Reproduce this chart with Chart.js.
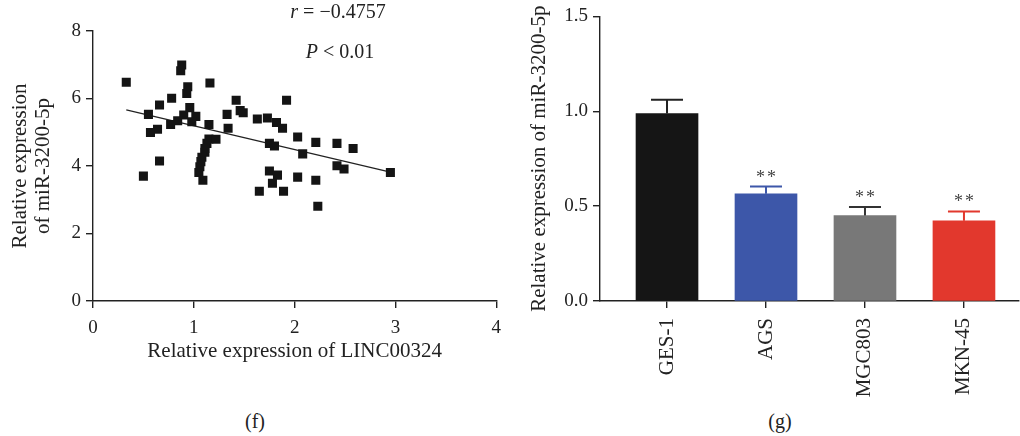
<!DOCTYPE html>
<html lang="en">
<head>
<meta charset="UTF-8">
<script src="https://cdn.jsdelivr.net/npm/chart.js"></script>
<style>
  body { margin:0; width:1020px; height:436px; overflow:hidden; background:#fff; position:relative;
         font-family:"Liberation Serif", "Times New Roman", serif; color:#222; }
  #scatterBox { position:absolute; left:0; top:0; width:510px; height:368px; }
  #barBox { position:absolute; left:500px; top:0; width:520px; height:400px; }
  .lab { position:absolute; font-size:20px; transform:translateX(-50%); white-space:nowrap; }
</style>
<title>LINC00324 / miR-3200-5p</title>
</head>
<body>

<div id="scatterBox"><canvas id="scatterChart"></canvas></div>
<div id="barBox"><canvas id="barChart"></canvas></div>

<div class="lab" style="left:338px; top:0px;"><i>r</i> = −0.4757</div>
<div class="lab" style="left:340px; top:40px;"><i>P</i> &lt; 0.01</div>
<div class="lab" style="left:255px; top:410px;">(f)</div>
<div class="lab" style="left:780px; top:410px;">(g)</div>

<script>
    // (f) correlation: LINC00324 vs miR-3200-5p
    const linc = [0.33, 0.88, 0.87, 1.16, 0.94, 0.93, 0.66, 0.78, 1.42, 1.92,
                  0.55, 0.96, 0.90, 1.02, 0.84, 0.77, 0.98, 1.15, 1.33, 1.46,
                  1.49, 1.63, 1.73, 1.82, 1.88, 1.34, 0.64, 0.57, 2.03, 1.15,
                  1.22, 1.13, 1.11, 1.11, 1.08, 1.07, 1.06, 1.05, 1.09, 1.75,
                  1.80, 2.08, 2.21, 2.42, 2.58, 2.42, 2.49, 2.95, 0.66, 0.50,
                  1.75, 1.83, 2.03, 1.78, 1.65, 1.89, 2.21, 2.23];
    const mir  = [6.48, 6.99, 6.82, 6.46, 6.35, 6.15, 5.81, 6.01, 5.95, 5.95,
                  5.53, 5.73, 5.51, 5.47, 5.34, 5.23, 5.31, 5.23, 5.53, 5.64,
                  5.58, 5.39, 5.42, 5.29, 5.12, 5.12, 5.09, 4.99, 4.86, 4.80,
                  4.79, 4.67, 4.52, 4.41, 4.26, 4.13, 3.98, 3.81, 3.58, 4.67,
                  4.59, 4.36, 4.70, 4.67, 4.52, 4.01, 3.91, 3.81, 4.15, 3.70,
                  3.85, 3.73, 3.67, 3.49, 3.25, 3.25, 3.58, 2.81];
    const fitX = [0.33, 2.95];
    const fitY = [5.66, 3.82];
    const xTicks = [0, 1, 2, 3, 4];
    const yTicks = [0, 2, 4, 6, 8];

    // (g) cell lines
    const cells = ['GES-1', 'AGS', 'MGC803', 'MKN-45'];
    const means = [0.988, 0.565, 0.450, 0.423];
    const errs  = [0.073, 0.038, 0.045, 0.049];
    const stars = ['', '**', '**', '**'];
    const barTicks = [0, 0.5, 1.0, 1.5];

    const barColors = ['#151515', '#3d57a9', '#787878', '#e2382d'];
    const capColors = ['#222222', '#3d57a9', '#333333', '#e2382d'];
    const ink = '#222';
    const family = '"Liberation Serif", "Times New Roman", serif';
    const tickFont = { family, size: 19 };
    const textFont = { family, size: 21 };

    const axisBits = {
        grid: { drawOnChartArea: false, drawTicks: true, tickLength: 7, color: ink, lineWidth: 1.4, offset: false },
        border: { display: true, color: ink, width: 1.4 }
    };

    new Chart(document.getElementById('scatterChart'), {
        type: 'scatter',
        data: {
            datasets: [{
                data: linc.map((v, i) => ({ x: v, y: mir[i] })),
                pointStyle: 'rect',
                pointRadius: 6.4,
                backgroundColor: '#141414',
                borderWidth: 0
            }, {
                type: 'line',
                data: fitX.map((v, i) => ({ x: v, y: fitY[i] })),
                borderColor: ink,
                borderWidth: 1.3,
                pointRadius: 0,
                fill: false
            }]
        },
        options: {
            animation: false,
            responsive: true,
            maintainAspectRatio: false,
            layout: { padding: { top: 31, right: 13, left: 0, bottom: 0 } },
            plugins: { legend: { display: false }, tooltip: { enabled: false } },
            scales: {
                x: {
                    type: 'linear', min: 0, max: 4,
                    afterBuildTicks: s => { s.ticks = xTicks.map(v => ({ value: v })); },
                    ticks: { font: tickFont, color: ink, padding: 9 },
                    title: { display: true, text: 'Relative expression of LINC00324', font: textFont, color: ink, padding: 4 },
                    afterFit: s => { s.height = 67; },
                    ...axisBits
                },
                y: {
                    min: 0, max: 8,
                    afterBuildTicks: s => { s.ticks = yTicks.map(v => ({ value: v })); },
                    ticks: { font: tickFont, color: ink, padding: 5 },
                    title: { display: true, text: ['Relative expression', 'of miR-3200-5p'], font: { ...textFont, lineHeight: 1.1 }, color: ink, padding: 9 },
                    afterFit: s => { s.width = 93; },
                    ...axisBits
                }
            }
        }
    });

    // error bars and significance marks on top of the bars
    const errorBars = {
        id: 'errorBars',
        afterDatasetsDraw(chart) {
            const { ctx, scales: { x, y } } = chart;
            ctx.save();
            means.forEach((m, i) => {
                const px = x.getPixelForValue(i);
                const top = y.getPixelForValue(m);
                const hi = y.getPixelForValue(m + errs[i]);
                ctx.strokeStyle = capColors[i];
                ctx.lineWidth = 2;
                ctx.beginPath();
                ctx.moveTo(px, top);
                ctx.lineTo(px, hi);
                ctx.moveTo(px - 16, hi);
                ctx.lineTo(px + 16, hi);
                ctx.stroke();
                if (stars[i]) {
                    ctx.fillStyle = '#444';
                    ctx.font = '18px ' + family;
                    ctx.letterSpacing = '2px';
                    ctx.textAlign = 'center';
                    ctx.textBaseline = 'alphabetic';
                    ctx.fillText(stars[i], px + 1, hi - 4);
                }
            });
            ctx.restore();
        }
    };

    new Chart(document.getElementById('barChart'), {
        type: 'bar',
        data: {
            datasets: [{
                data: cells.map((c, i) => ({ x: i, y: means[i] })),
                backgroundColor: barColors,
                barThickness: 62,
                borderWidth: 0
            }]
        },
        options: {
            animation: false,
            responsive: true,
            maintainAspectRatio: false,
            layout: { padding: { top: 14, right: 1, left: 23, bottom: 0 } },
            plugins: { legend: { display: false }, tooltip: { enabled: false } },
            scales: {
                x: {
                    type: 'linear', min: -0.677, max: 3.556, offset: false,
                    afterBuildTicks: s => { s.ticks = cells.map((c, i) => ({ value: i })); },
                    ticks: { callback: v => cells[v], minRotation: 90, maxRotation: 90, padding: 10, font: textFont, color: ink },
                    afterFit: s => { s.height = 99; },
                    ...axisBits
                },
                y: {
                    min: 0, max: 1.5,
                    afterBuildTicks: s => { s.ticks = barTicks.map(v => ({ value: v })); },
                    ticks: { callback: v => v.toFixed(1), font: tickFont, color: ink, padding: 5 },
                    title: { display: true, text: 'Relative expression of miR-3200-5p', font: textFont, color: ink, padding: 4 },
                    afterFit: s => { s.width = 77; },
                    ...axisBits
                }
            }
        },
        plugins: [errorBars]
    });
</script>

</body>
</html>
